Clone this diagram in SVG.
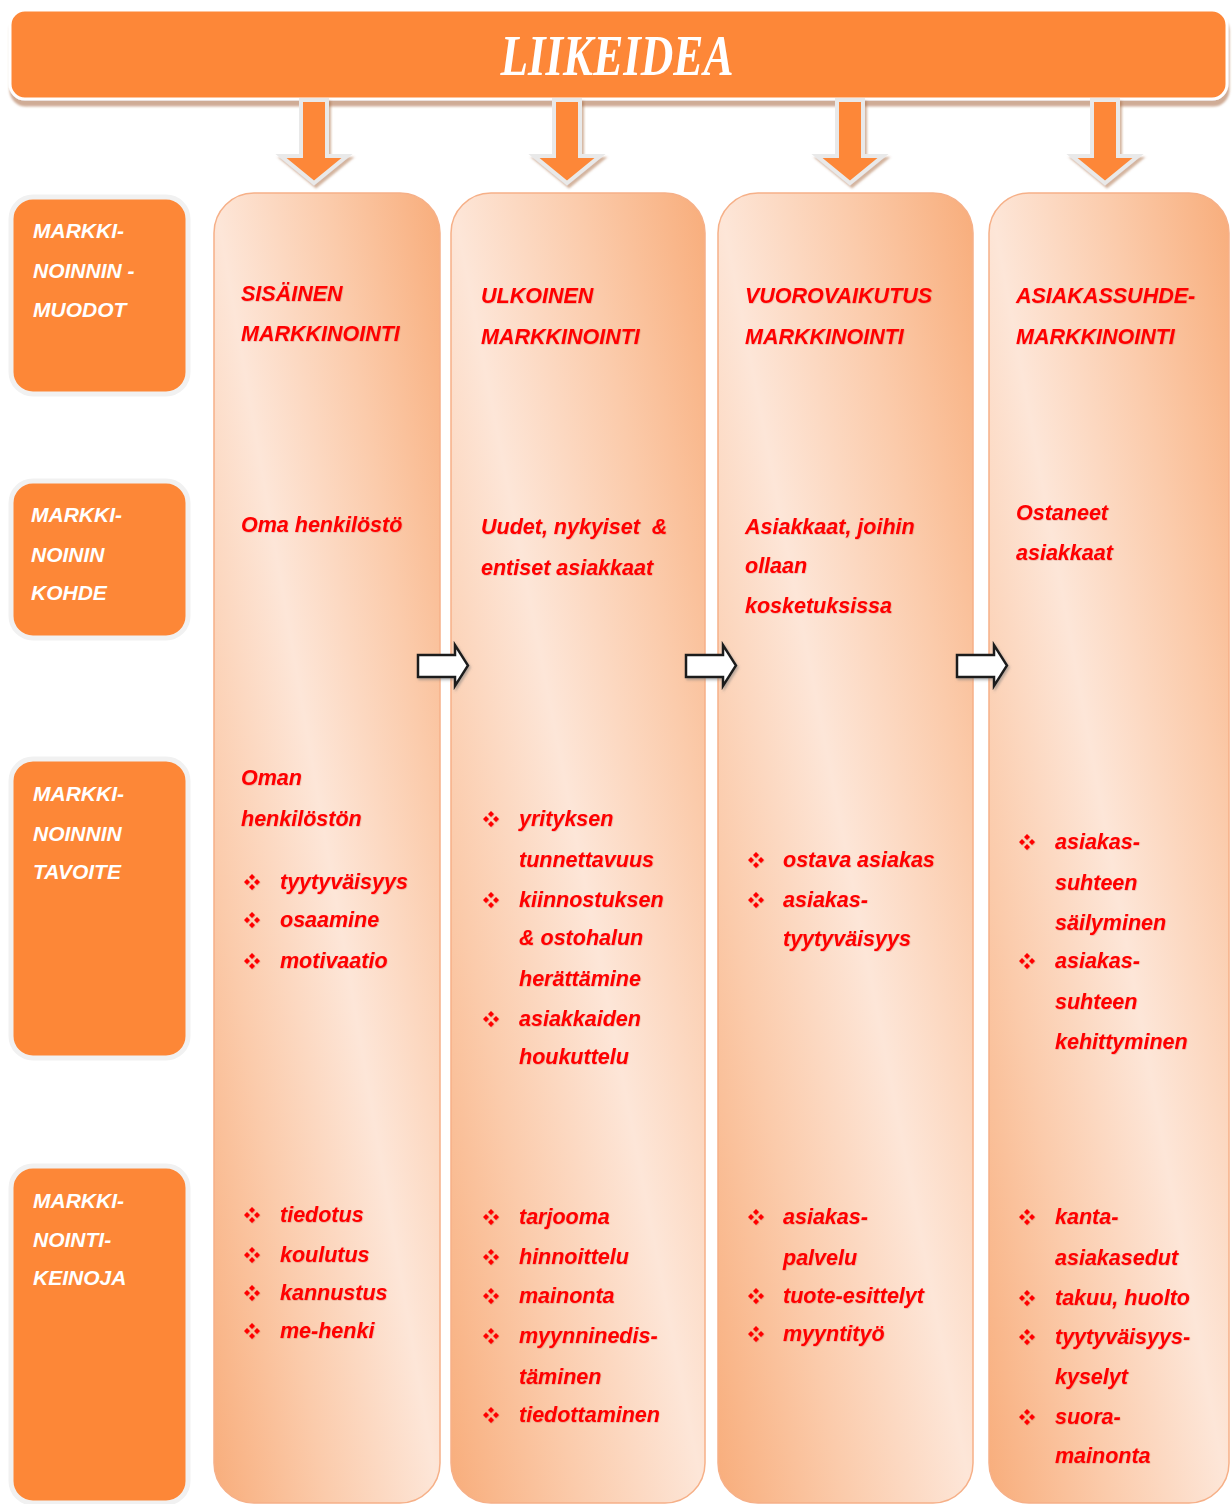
<svg xmlns="http://www.w3.org/2000/svg" xmlns:xlink="http://www.w3.org/1999/xlink" width="1232" height="1504" viewBox="0 0 1232 1504">
  <defs>
    <style>
      .hdr { fill: #FD8737; stroke: #FFFFFF; stroke-width: 3; }
      .lbl { fill: #FD8737; stroke: #F1F1F1; stroke-width: 5; }
      .col { fill: url(#colGrad); stroke: #F6B088; stroke-width: 1.5; }
      .down { fill: #FD8737; stroke: #E9E9E9; stroke-width: 4; stroke-linejoin: miter; }
      .right { fill: #FFFFFF; stroke: #1E1E1E; stroke-width: 2.5; stroke-linejoin: miter; }
      .title { font-family: "Liberation Serif", "DejaVu Serif", serif; font-weight: bold; font-style: italic; font-size: 58px; fill: #FFFFFF; }
      .ltxt { font-family: "Liberation Sans", Arial, sans-serif; font-weight: bold; font-style: italic; font-size: 21px; fill: #FFFFFF; }
      .ctxt { font-family: "Liberation Sans", Arial, sans-serif; font-weight: bold; font-style: italic; font-size: 21.5px; fill: #FF0000; }
      .bul { fill: #FF0000; }
    </style>
    <linearGradient id="colGrad" x1="0" y1="1" x2="1" y2="0">
      <stop offset="0" stop-color="#F8AD7B"/>
      <stop offset="0.25" stop-color="#FBCBAB"/>
      <stop offset="0.5" stop-color="#FDE6D8"/>
      <stop offset="0.75" stop-color="#FBCBAB"/>
      <stop offset="1" stop-color="#F8AD7B"/>
    </linearGradient>
    <filter id="hdrShadow" x="-5%" y="-20%" width="110%" height="160%">
      <feDropShadow dx="1" dy="6" stdDeviation="1.2" flood-color="#A8673E" flood-opacity="0.55"/>
    </filter>
    <filter id="arrowShadow" x="-30%" y="-10%" width="160%" height="130%">
      <feDropShadow dx="2" dy="3" stdDeviation="1" flood-color="#A8673E" flood-opacity="0.5"/>
    </filter>
    <filter id="grayShadow" x="-20%" y="-20%" width="140%" height="160%">
      <feDropShadow dx="1.5" dy="2" stdDeviation="1" flood-color="#777777" flood-opacity="0.5"/>
    </filter>
    <filter id="textShadow" x="-5%" y="-20%" width="110%" height="150%">
      <feDropShadow dx="0.5" dy="0.6" stdDeviation="0.3" flood-color="#8A0000" flood-opacity="0.25"/>
    </filter>
    <!-- four-diamond bullet -->
    <g id="b" class="bul">
      <path d="M0,-8 L3,-5 L0,-2 L-3,-5 Z M0,2 L3,5 L0,8 L-3,5 Z M-8,0 L-5,-3 L-2,0 L-5,3 Z M2,0 L5,-3 L8,0 L5,3 Z"/>
    </g>
  </defs>

  <rect width="1232" height="1504" fill="#FFFFFF"/>

  <!-- header -->
  <g id="liikeidea">
    <rect class="hdr" x="10" y="10" width="1217" height="89" rx="15" filter="url(#hdrShadow)"/>
    <text class="title" x="617" y="75" text-anchor="middle" textLength="233" lengthAdjust="spacingAndGlyphs">LIIKEIDEA</text>
  </g>

  <!-- row labels -->
  <g id="label-muodot">
    <rect class="lbl" x="11" y="197" width="177" height="197" rx="22"/>
    <text class="ltxt" x="33" y="238">MARKKI-</text>
    <text class="ltxt" x="33" y="278">NOINNIN -</text>
    <text class="ltxt" x="33" y="317">MUODOT</text>
  </g>
  <g id="label-kohde">
    <rect class="lbl" x="11" y="481" width="177" height="157" rx="22"/>
    <text class="ltxt" x="31" y="522">MARKKI-</text>
    <text class="ltxt" x="31" y="562">NOININ</text>
    <text class="ltxt" x="31" y="600">KOHDE</text>
  </g>
  <g id="label-tavoite">
    <rect class="lbl" x="11" y="759" width="177" height="299" rx="22"/>
    <text class="ltxt" x="33" y="801">MARKKI-</text>
    <text class="ltxt" x="33" y="841">NOINNIN</text>
    <text class="ltxt" x="33" y="879">TAVOITE</text>
  </g>
  <g id="label-keinoja">
    <rect class="lbl" x="11" y="1166" width="177" height="337" rx="22"/>
    <text class="ltxt" x="33" y="1208">MARKKI-</text>
    <text class="ltxt" x="33" y="1247">NOINTI-</text>
    <text class="ltxt" x="33" y="1285">KEINOJA</text>
  </g>

  <!-- column backgrounds -->
  <g id="col-sisainen">
    <rect class="col" x="214" y="193" width="226" height="1310" rx="40"/>
  </g>
  <g id="col-ulkoinen">
    <rect class="col" x="451" y="193" width="254" height="1310" rx="40"/>
  </g>
  <g id="col-vuorovaikutus">
    <rect class="col" x="718" y="193" width="255" height="1310" rx="40"/>
  </g>
  <g id="col-asiakassuhde">
    <rect class="col" x="989" y="193" width="240" height="1310" rx="40"/>
  </g>

  <!-- connectors -->
  <g id="connectors">
    <g filter="url(#arrowShadow)">
      <path class="down" d="M301,100 H327 V156 H347 L314,183 L281,156 H301 Z"/>
      <path class="down" d="M554,100 H580 V156 H600 L567,183 L534,156 H554 Z"/>
      <path class="down" d="M837,100 H863 V156 H883 L850,183 L817,156 H837 Z"/>
      <path class="down" d="M1092,100 H1118 V156 H1138 L1105,183 L1072,156 H1092 Z"/>
    </g>
    <g filter="url(#grayShadow)">
      <path class="right" d="M418,655 H455 V645 L468,665.5 L455,686 V677 H418 Z"/>
      <path class="right" d="M686,655 H723 V645 L736,665.5 L723,686 V677 H686 Z"/>
      <path class="right" d="M957,655 H994 V645 L1007,665.5 L994,686 V677 H957 Z"/>
    </g>
  </g>

  <!-- column texts -->
  <g filter="url(#textShadow)">
    <g id="txt-sisainen" class="ctxt">
      <text x="241" y="301">SISÄINEN</text>
      <text x="241" y="341">MARKKINOINTI</text>
      <text x="241" y="532">Oma henkilöstö</text>
      <text x="241" y="785">Oman</text>
      <text x="241" y="826">henkilöstön</text>
      <use xlink:href="#b" x="252" y="882"/><text x="280" y="889">tyytyväisyys</text>
      <use xlink:href="#b" x="252" y="920"/><text x="280" y="927">osaamine</text>
      <use xlink:href="#b" x="252" y="961"/><text x="280" y="968">motivaatio</text>
      <use xlink:href="#b" x="252" y="1215"/><text x="280" y="1222">tiedotus</text>
      <use xlink:href="#b" x="252" y="1255"/><text x="280" y="1262">koulutus</text>
      <use xlink:href="#b" x="252" y="1293"/><text x="280" y="1300">kannustus</text>
      <use xlink:href="#b" x="252" y="1331"/><text x="280" y="1338">me-henki</text>
    </g>
    <g id="txt-ulkoinen" class="ctxt">
      <text x="481" y="303">ULKOINEN</text>
      <text x="481" y="344">MARKKINOINTI</text>
      <text x="481" y="534" xml:space="preserve">Uudet, nykyiset  &amp;</text>
      <text x="481" y="575">entiset asiakkaat</text>
      <use xlink:href="#b" x="491" y="819"/><text x="519" y="826">yrityksen</text>
      <text x="519" y="867">tunnettavuus</text>
      <use xlink:href="#b" x="491" y="900"/><text x="519" y="907">kiinnostuksen</text>
      <text x="519" y="945">&amp; ostohalun</text>
      <text x="519" y="986">herättämine</text>
      <use xlink:href="#b" x="491" y="1019"/><text x="519" y="1026">asiakkaiden</text>
      <text x="519" y="1064">houkuttelu</text>
      <use xlink:href="#b" x="491" y="1217"/><text x="519" y="1224">tarjooma</text>
      <use xlink:href="#b" x="491" y="1257"/><text x="519" y="1264">hinnoittelu</text>
      <use xlink:href="#b" x="491" y="1296"/><text x="519" y="1303">mainonta</text>
      <use xlink:href="#b" x="491" y="1336"/><text x="519" y="1343">myynninedis-</text>
      <text x="519" y="1384">täminen</text>
      <use xlink:href="#b" x="491" y="1415"/><text x="519" y="1422">tiedottaminen</text>
    </g>
    <g id="txt-vuorovaikutus" class="ctxt">
      <text x="745" y="303">VUOROVAIKUTUS</text>
      <text x="745" y="344">MARKKINOINTI</text>
      <text x="745" y="534">Asiakkaat, joihin</text>
      <text x="745" y="573">ollaan</text>
      <text x="745" y="613">kosketuksissa</text>
      <use xlink:href="#b" x="756" y="860"/><text x="783" y="867">ostava asiakas</text>
      <use xlink:href="#b" x="756" y="900"/><text x="783" y="907">asiakas-</text>
      <text x="783" y="946">tyytyväisyys</text>
      <use xlink:href="#b" x="756" y="1217"/><text x="783" y="1224">asiakas-</text>
      <text x="783" y="1265">palvelu</text>
      <use xlink:href="#b" x="756" y="1296"/><text x="783" y="1303">tuote-esittelyt</text>
      <use xlink:href="#b" x="756" y="1334"/><text x="783" y="1341">myyntityö</text>
    </g>
    <g id="txt-asiakassuhde" class="ctxt">
      <text x="1016" y="303">ASIAKASSUHDE-</text>
      <text x="1016" y="344">MARKKINOINTI</text>
      <text x="1016" y="520">Ostaneet</text>
      <text x="1016" y="560">asiakkaat</text>
      <use xlink:href="#b" x="1027" y="842"/><text x="1055" y="849">asiakas-</text>
      <text x="1055" y="890">suhteen</text>
      <text x="1055" y="930">säilyminen</text>
      <use xlink:href="#b" x="1027" y="961"/><text x="1055" y="968">asiakas-</text>
      <text x="1055" y="1009">suhteen</text>
      <text x="1055" y="1049">kehittyminen</text>
      <use xlink:href="#b" x="1027" y="1217"/><text x="1055" y="1224">kanta-</text>
      <text x="1055" y="1265">asiakasedut</text>
      <use xlink:href="#b" x="1027" y="1298"/><text x="1055" y="1305">takuu, huolto</text>
      <use xlink:href="#b" x="1027" y="1337"/><text x="1055" y="1344">tyytyväisyys-</text>
      <text x="1055" y="1384">kyselyt</text>
      <use xlink:href="#b" x="1027" y="1417"/><text x="1055" y="1424">suora-</text>
      <text x="1055" y="1463">mainonta</text>
    </g>
  </g>
</svg>
